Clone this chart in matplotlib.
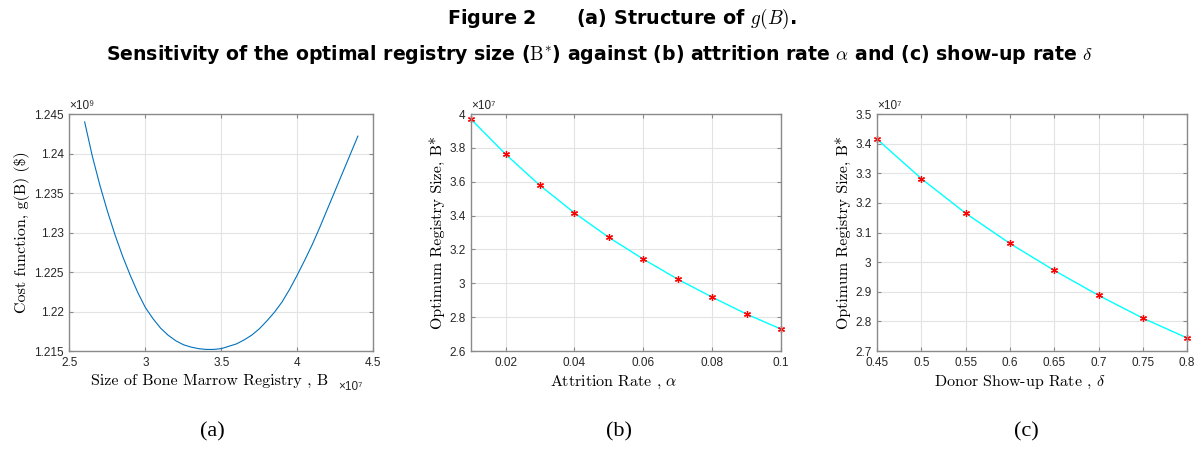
import matplotlib
matplotlib.use('Agg')
import matplotlib.pyplot as plt
from matplotlib.ticker import FuncFormatter

plt.rcParams['mathtext.fontset'] = 'cm'

# (a) cost function g(B) against registry size B
size_B = [2.60e7, 2.65e7, 2.70e7, 2.75e7, 2.80e7, 2.85e7, 2.90e7, 2.95e7, 3.00e7,
          3.05e7, 3.10e7, 3.15e7, 3.20e7, 3.25e7, 3.30e7, 3.35e7, 3.40e7, 3.45e7,
          3.50e7, 3.55e7, 3.60e7, 3.65e7, 3.70e7, 3.75e7, 3.80e7, 3.85e7, 3.90e7,
          3.95e7, 4.00e7, 4.05e7, 4.10e7, 4.15e7, 4.20e7, 4.25e7, 4.30e7, 4.35e7,
          4.40e7]
cost_g = [1.2440e9, 1.2397e9, 1.2360e9, 1.2327e9, 1.2297e9, 1.2270e9, 1.2246e9,
          1.2224e9, 1.2205e9, 1.2191e9, 1.2179e9, 1.2170e9, 1.2163e9, 1.2158e9,
          1.2155e9, 1.2153e9, 1.2152e9, 1.2152e9, 1.2153e9, 1.2156e9, 1.2159e9,
          1.2164e9, 1.2170e9, 1.2178e9, 1.2188e9, 1.2199e9, 1.2212e9, 1.2228e9,
          1.2246e9, 1.2265e9, 1.2285e9, 1.2307e9, 1.2330e9, 1.2353e9, 1.2376e9,
          1.2399e9, 1.2422e9]

# (b) optimum size against attrition rate alpha
alpha = [0.01, 0.02, 0.03, 0.04, 0.05, 0.06, 0.07, 0.08, 0.09, 0.10]
B_alpha = [3.969e7, 3.763e7, 3.578e7, 3.416e7, 3.271e7, 3.143e7, 3.024e7,
           2.918e7, 2.818e7, 2.729e7]

# (c) optimum size against show-up rate delta
delta = [0.45, 0.50, 0.55, 0.60, 0.65, 0.70, 0.75, 0.80]
B_delta = [3.415e7, 3.282e7, 3.165e7, 3.063e7, 2.972e7, 2.888e7, 2.811e7, 2.744e7]

SANS = ['Liberation Sans Narrow', 'Liberation Sans', 'DejaVu Sans']
TICKC = '#262626'


def style_axes(ax, scale):
    for s in ax.spines.values():
        s.set_color('#8a8a8a')
        s.set_linewidth(1.0)
    ax.grid(True, color='#e3e3e3', linewidth=0.8)
    ax.set_axisbelow(True)
    ax.tick_params(direction='in', length=3, top=True, right=True,
                   colors='#8a8a8a', labelcolor=TICKC, labelsize=8.5, pad=4)
    for lab in ax.get_xticklabels() + ax.get_yticklabels():
        lab.set_family(SANS)
    ax.yaxis.set_major_formatter(FuncFormatter(lambda v, p: f'{v / scale:g}'))


fig = plt.figure(figsize=(11.98, 4.51), dpi=100)

fig.text(0.519, 0.958, r'Figure 2      (a) Structure of $g(B)$.', ha='center', va='center',
         fontsize=13.8, fontweight='bold', family='DejaVu Sans')
fig.text(0.5, 0.905, r'Sensitivity of the optimal registry size ($\mathrm{B}^{*}$) against (b) '
         r'attrition rate $\alpha$ and (c) show-up rate $\delta$',
         ha='center', va='top', fontsize=13.6, fontweight='bold', family='DejaVu Sans')

# panel (a)
ax1 = fig.add_axes([0.058, 0.2217, 0.2534, 0.5255])
ax1.plot(size_B, cost_g, color='#0072BD', linewidth=0.8)
ax1.set_xlim(2.5e7, 4.5e7)
ax1.set_ylim(1.215e9, 1.245e9)
ax1.set_xticks([2.5e7, 3e7, 3.5e7, 4e7, 4.5e7])
ax1.set_yticks([1.215e9, 1.22e9, 1.225e9, 1.23e9, 1.235e9, 1.24e9, 1.245e9])
ax1.xaxis.set_major_formatter(FuncFormatter(lambda v, p: f'{v / 1e7:g}'))
style_axes(ax1, 1e9)
ax1.set_xlabel('Size of Bone Marrow Registry , B', family='cmr10', fontsize=11.5)
ax1.xaxis.set_label_coords(0.46, -0.097)
ax1.set_ylabel('Cost function, g(B) ($)', family='cmr10', fontsize=11.5, labelpad=3)
ax1.text(0.0, 1.01, '×10⁹', transform=ax1.transAxes, fontsize=8.5, color=TICKC,
         family=SANS, ha='left', va='bottom')
ax1.text(0.885, -0.15, '×10⁷', transform=ax1.transAxes, fontsize=8.5, color=TICKC,
         family=SANS, ha='left', va='center')

# panel (b)
ax2 = fig.add_axes([0.3932, 0.2217, 0.2588, 0.5255])
ax2.plot(alpha, B_alpha, color='cyan', linewidth=1.0)
ax2.plot(alpha, B_alpha, linestyle='none', marker=(6, 2, 0), markersize=5,
         markeredgecolor='red', markeredgewidth=0.9, clip_on=False)
ax2.set_xlim(0.01, 0.1)
ax2.set_ylim(2.6e7, 4.0e7)
ax2.set_xticks([0.02, 0.04, 0.06, 0.08, 0.1])
ax2.set_yticks([2.6e7, 2.8e7, 3.0e7, 3.2e7, 3.4e7, 3.6e7, 3.8e7, 4.0e7])
ax2.xaxis.set_major_formatter(FuncFormatter(lambda v, p: f'{v:g}'))
style_axes(ax2, 1e7)
ax2.set_xlabel(r'Attrition Rate , $\alpha$', family='cmr10', fontsize=11.5)
ax2.xaxis.set_label_coords(0.46, -0.097)
ax2.set_ylabel('Optimum Registry Size, B*', family='cmr10', fontsize=11.5, labelpad=3)
ax2.text(0.0, 1.01, '×10⁷', transform=ax2.transAxes, fontsize=8.5, color=TICKC,
         family=SANS, ha='left', va='bottom')

# panel (c)
ax3 = fig.add_axes([0.7321, 0.2217, 0.2588, 0.5255])
ax3.plot(delta, B_delta, color='cyan', linewidth=1.0)
ax3.plot(delta, B_delta, linestyle='none', marker=(6, 2, 0), markersize=5,
         markeredgecolor='red', markeredgewidth=0.9, clip_on=False)
ax3.set_xlim(0.45, 0.8)
ax3.set_ylim(2.7e7, 3.5e7)
ax3.set_xticks([0.45, 0.5, 0.55, 0.6, 0.65, 0.7, 0.75, 0.8])
ax3.set_yticks([2.7e7, 2.8e7, 2.9e7, 3.0e7, 3.1e7, 3.2e7, 3.3e7, 3.4e7, 3.5e7])
ax3.xaxis.set_major_formatter(FuncFormatter(lambda v, p: f'{v:g}'))
style_axes(ax3, 1e7)
ax3.set_xlabel(r'Donor Show-up Rate , $\delta$', family='cmr10', fontsize=11.5)
ax3.xaxis.set_label_coords(0.46, -0.097)
ax3.set_ylabel('Optimum Registry Size, B*', family='cmr10', fontsize=11.5, labelpad=3)
ax3.text(0.0, 1.01, '×10⁷', transform=ax3.transAxes, fontsize=8.5, color=TICKC,
         family=SANS, ha='left', va='bottom')

for x, lab in [(0.177, '(a)'), (0.517, '(b)'), (0.857, '(c)')]:
    fig.text(x, 0.042, lab, ha='center', va='center', fontsize=16, family='Liberation Serif')

fig.savefig('out.png', dpi=100)
